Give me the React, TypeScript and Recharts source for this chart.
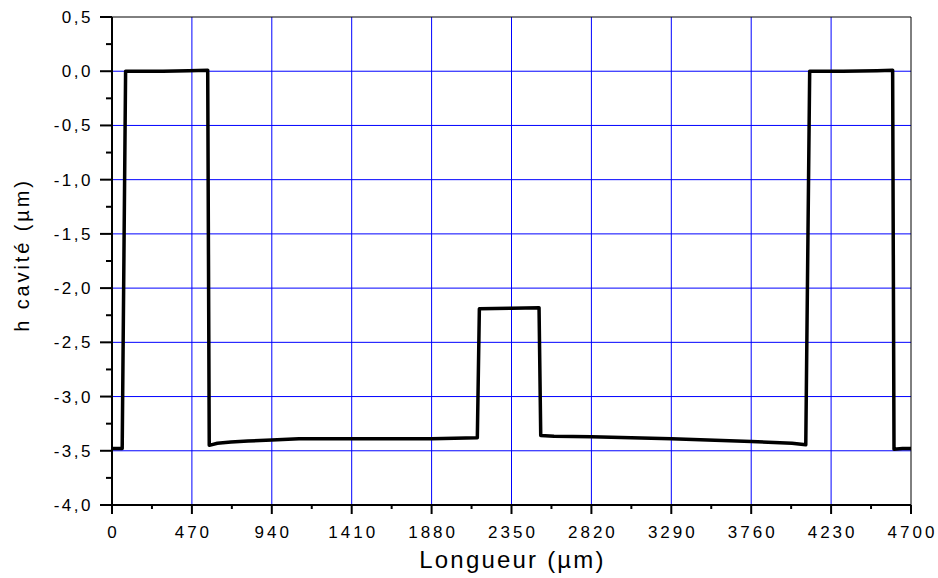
import {
  LineChart,
  Line,
  XAxis,
  YAxis,
  CartesianGrid,
  ReferenceLine,
} from "recharts";

// profil mesuré : longueur (µm) / hauteur de cavité (µm)
const longueur = [
  0, 60, 80, 150, 300, 450, 563, 572, 620, 700, 800, 940, 1100, 1410, 1880,
  2149, 2161, 2350, 2512, 2522, 2600, 2820, 3290, 3760, 4000, 4081, 4104, 4300,
  4500, 4592, 4600, 4650, 4700,
];
const hauteur = [
  -3.48, -3.48, 0.0, 0.0, 0.0, 0.005, 0.01, -3.45, -3.43, -3.42, -3.41, -3.4,
  -3.39, -3.39, -3.39, -3.38, -2.19, -2.185, -2.18, -3.36, -3.365, -3.37, -3.39,
  -3.415, -3.43, -3.445, 0.0, 0.0, 0.005, 0.01, -3.485, -3.48, -3.48,
];

const xMajorTicks = [0, 470, 940, 1410, 1880, 2350, 2820, 3290, 3760, 4230, 4700];
const xMinorTicks = [235, 705, 1175, 1645, 2115, 2585, 3055, 3525, 3995, 4465];
const yMajorTicks = [0.5, 0, -0.5, -1, -1.5, -2, -2.5, -3, -3.5, -4];
const yMinorTicks = [0.25, -0.25, -0.75, -1.25, -1.75, -2.25, -2.75, -3.25, -3.75];

const data = longueur.map((x, i) => ({ x, h: hauteur[i] }));

const FONT = "'Liberation Sans', Arial, sans-serif";
const GRID_BLUE = "#0000ff";

const fmtY = (v: number) => v.toFixed(1).replace(".", ",");

function isMajor(list: number[], v: number) {
  return list.some((m) => Math.abs(m - v) < 1e-6);
}

function XTick(props: any) {
  const { x, y, payload } = props;
  const major = isMajor(xMajorTicks, payload.value);
  return (
    <g>
      <line x1={x} x2={x} y1={y} y2={y + (major ? 9 : 4)} stroke="#000" strokeWidth={2} />
      {major && (
        <text
          x={x + 1.5}
          y={y + 33}
          textAnchor="middle"
          fontFamily={FONT}
          fontSize={17}
          letterSpacing={3}
          fill="#000"
        >
          {payload.value}
        </text>
      )}
    </g>
  );
}

function YTick(props: any) {
  const { x, y, payload } = props;
  const major = isMajor(yMajorTicks, payload.value);
  return (
    <g>
      <line x1={x} x2={x - (major ? 12 : 6)} y1={y} y2={y} stroke="#000" strokeWidth={2} />
      {major && (
        <text
          x={x - 19}
          y={y + 6}
          textAnchor="end"
          fontFamily={FONT}
          fontSize={17}
          letterSpacing={2.5}
          fill="#000"
        >
          {fmtY(payload.value)}
        </text>
      )}
    </g>
  );
}

export default function App() {
  const xTicks = [...xMajorTicks, ...xMinorTicks].sort((a, b) => a - b);
  const yTicks = [...yMajorTicks, ...yMinorTicks].sort((a, b) => a - b);

  return (
    <div style={{ position: "absolute", left: 0, top: 0, background: "#fff" }}>
      <LineChart
        width={938}
        height={578}
        data={data}
        margin={{ top: 17, right: 27, left: 0, bottom: 0 }}
      >
        <CartesianGrid
          stroke={GRID_BLUE}
          strokeWidth={1}
          verticalValues={xMajorTicks.slice(1, -1)}
          horizontalValues={yMajorTicks.slice(1, -1)}
        />
        <ReferenceLine y={0.5} stroke="#000" strokeWidth={1} />
        <ReferenceLine x={4700} stroke="#000" strokeWidth={1} />
        <XAxis
          type="number"
          dataKey="x"
          domain={[0, 4700]}
          ticks={xTicks}
          interval={0}
          height={73}
          tickSize={0}
          tickMargin={0}
          tick={<XTick />}
          axisLine={{ stroke: "#000", strokeWidth: 2 }}
          tickLine={false}
          allowDataOverflow
          label={{
            content: ({ viewBox }: any) => (
              <text
                x={viewBox.x + viewBox.width / 2 + 1}
                y={568}
                textAnchor="middle"
                fontFamily={FONT}
                fontSize={24}
                letterSpacing={2.2}
                fill="#000"
              >
                Longueur (µm)
              </text>
            ),
          }}
        />
        <YAxis
          type="number"
          domain={[-4, 0.5]}
          ticks={yTicks}
          interval={0}
          width={112}
          tickSize={0}
          tickMargin={0}
          tick={<YTick />}
          axisLine={{ stroke: "#000", strokeWidth: 2 }}
          tickLine={false}
          allowDataOverflow
          label={{
            content: () => (
              <text
                transform="translate(29,255) rotate(-90)"
                textAnchor="middle"
                fontFamily={FONT}
                fontSize={20}
                letterSpacing={2.9}
                fill="#000"
              >
                h cavité (µm)
              </text>
            ),
          }}
        />
        <Line
          type="linear"
          dataKey="h"
          stroke="#000"
          strokeWidth={3.5}
          strokeLinejoin="round"
          dot={false}
          activeDot={false}
          isAnimationActive={false}
        />
      </LineChart>
    </div>
  );
}
